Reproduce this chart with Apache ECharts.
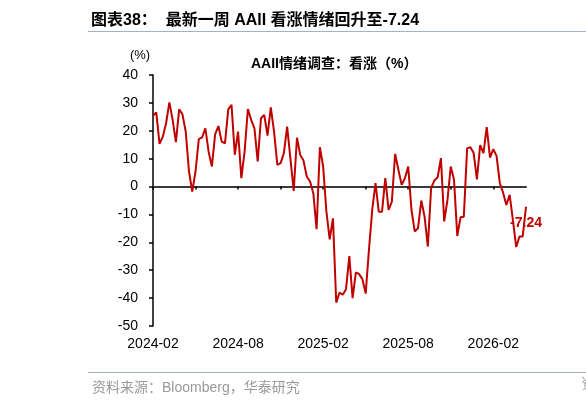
<!DOCTYPE html>
<html>
<head>
<meta charset="utf-8">
<script src="https://cdn.jsdelivr.net/npm/echarts@6/dist/echarts.min.js"></script>
<style>
html,body{margin:0;padding:0;background:#fff;}
#c{width:586px;height:403px;}
</style>
</head>
<body>
<div id="c"></div>
<script>
// Weekly AAII bullish sentiment series (%)
var bullish = [
  25.4, 26.6, 15.3, 17.9, 22.7, 30.2, 23.9, 15.9, 27.7, 25.9,
  19.7, 5.4, -1.8, 5.4, 17.0, 17.6, 20.9, 12.5, 7.2, 18.8,
  21.7, 16.1, 15.5, 27.7, 29.3, 11.4, 19.7, 3.0, 12.5, 27.8,
  23.9, 20.9, 9.0, 24.5, 25.7, 18.3, 28.4, 19.7, 7.8, 8.4,
  12.0, 21.5, 10.0, -1.6, 17.5, 11.3, 9.3, 3.6, 1.8, -2.4,
  -15.3, 14.1, 7.2, -9.0, -18.9, -11.4, -41.6, -38.0, -38.8, -36.8,
  -24.9, -40.0, -30.8, -31.4, -33.2, -38.4, -22.7, -8.4, 1.2, -9.0,
  -9.0, 3.0, -8.4, -5.4, 11.7, 6.0, 0.6, 3.0, 7.2, -8.4,
  -16.1, -14.9, -5.0, -10.8, -21.5, -0.6, 2.2, 3.3, 10.2, -12.5,
  -4.8, 7.2, 2.4, -17.7, -11.0, -10.8, 13.7, 14.1, 12.0, 2.6,
  14.9, 12.0, 21.3, 10.4, 13.4, 11.0, 1.2, -2.2, -6.6, -3.0,
  -12.0, -21.7, -17.9, -17.9, -7.24
];
// x tick labels, one every 26 weeks starting at the first week
var tickLabels = ['2024-02', '2024-08', '2025-02', '2025-08', '2026-02'];
var labelStep = 26;
var tickStep = 13;
var yTicks = {min: -50, max: 40, step: 10};
var titleText = '图表38：  最新一周 AAII 看涨情绪回升至-7.24';
var subTitleText = 'AAII情绪调查：看涨（%）';
var sourceText = '资料来源：Bloomberg，华泰研究';

var weeks = bullish.map(function (v, i) { return 'W' + i; });
var lastIdx = bullish.length - 1;

var FONT = '"Liberation Sans", Arial, "Noto Sans CJK SC", sans-serif';
var chart = echarts.init(document.getElementById('c'), null, {renderer: 'canvas'});
chart.setOption({
  animation: false,
  backgroundColor: '#ffffff',
  textStyle: {fontFamily: FONT},
  title: [
    {text: titleText, left: 86, top: 8,
     textStyle: {fontSize: 16, fontWeight: 'bold', color: '#000', fontFamily: FONT}},
    {text: subTitleText, left: 246, top: 52,
     textStyle: {fontSize: 14, fontWeight: 'bold', color: '#000', fontFamily: FONT}},
    {text: sourceText, left: 87, top: 376,
     textStyle: {fontSize: 14, fontWeight: 'normal', color: '#999999', fontFamily: FONT}}
  ],
  graphic: [
    {type: 'line', shape: {x1: 88, y1: 31.5, x2: 586, y2: 31.5}, style: {stroke: '#9fb3cc', lineWidth: 1}},
    {type: 'line', shape: {x1: 88, y1: 372.5, x2: 586, y2: 372.5}, style: {stroke: '#9fb3cc', lineWidth: 1}},
    {type: 'text', left: 581, top: 377, style: {text: '资', fontSize: 14, fill: '#999999', font: '14px "Noto Sans CJK SC"'}}
  ],
  grid: {left: 153, right: 60, top: 75, bottom: 77, containLabel: false},
  xAxis: [
    {
      type: 'category', data: weeks, boundaryGap: false,
      axisLine: {onZero: true, lineStyle: {color: '#3a3a3a', width: 2}},
      axisTick: {show: true, interval: tickStep - 1, length: 3, lineStyle: {color: '#000', width: 1.5}},
      axisLabel: {show: false},
      splitLine: {show: false}
    },
    {
      type: 'category', data: weeks, boundaryGap: false, position: 'bottom',
      axisLine: {show: false, onZero: false},
      axisTick: {show: false},
      axisLabel: {
        show: true, interval: labelStep - 1, margin: 11,
        fontSize: 14, color: '#000', fontFamily: FONT,
        formatter: function (val, idx) {
          var k = Math.round(idx / labelStep);
          return tickLabels[k] || '';
        }
      },
      splitLine: {show: false}
    }
  ],
  yAxis: {
    type: 'value', min: yTicks.min, max: yTicks.max, interval: yTicks.step,
    name: '(%)', nameLocation: 'end', nameGap: 13,
    nameTextStyle: {fontSize: 13, color: '#000', align: 'center', padding: [0, 26, 0, 0], fontFamily: FONT},
    axisLine: {show: true, onZero: false, lineStyle: {color: '#000', width: 1.5}},
    axisTick: {show: true, length: 4, lineStyle: {color: '#000', width: 1.5}},
    axisLabel: {fontSize: 14, color: '#000', margin: 15, fontFamily: FONT},
    splitLine: {show: false}
  },
  series: [{
    type: 'line', data: bullish, xAxisIndex: 0,
    symbol: 'none', smooth: false,
    lineStyle: {color: '#C00000', width: 2},
    itemStyle: {color: '#C00000'},
    emphasis: {disabled: true},
    markPoint: {
      symbol: 'circle', symbolSize: 0,
      silent: true,
      label: {show: true, position: 'bottom', distance: 9, color: '#C00000', fontSize: 14, fontWeight: 'bold', fontFamily: FONT,
              formatter: function (p) { return String(p.value); }},
      data: [{coord: [weeks[lastIdx], bullish[lastIdx]], value: bullish[lastIdx]}]
    },
    z: 3
  }]
});
</script>
</body>
</html>
